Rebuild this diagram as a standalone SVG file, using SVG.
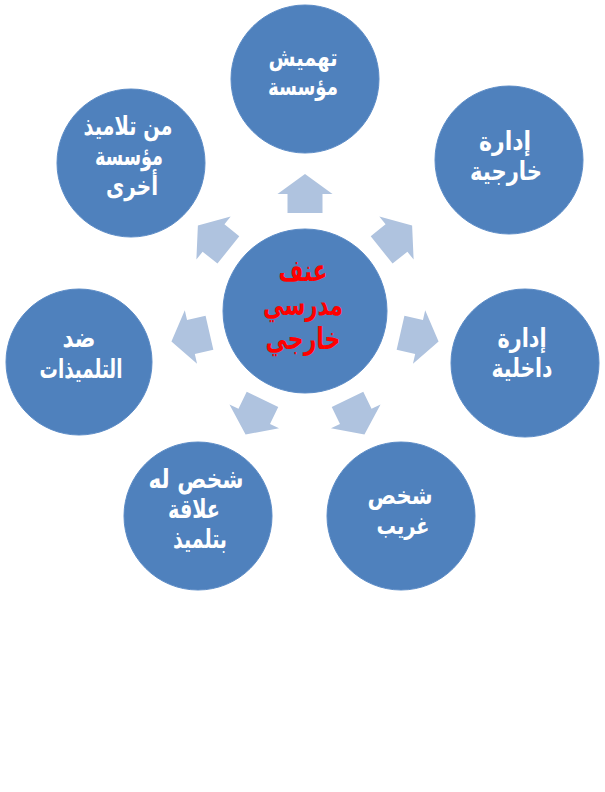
<svg xmlns="http://www.w3.org/2000/svg" width="605" height="792" viewBox="0 0 605 792">
<style>
.node{fill:#4F81BD;stroke:#5B8BC6;stroke-width:1}
.arrow{fill:#AFC3DF}
.t{font-family:"DejaVu Sans",sans-serif;font-weight:bold;font-size:26px;fill:#FFFFFF;text-anchor:middle}
.s{font-size:24px}
.c{font-family:"DejaVu Sans",sans-serif;font-weight:bold;font-size:30px;fill:#FF0000;text-anchor:middle}
</style>
<defs>
<polygon id="arr" points="98,-17.5 117,-17.5 117,-27.5 137,0 117,27.5 117,17.5 98,17.5"/>
</defs>
<rect width="605" height="792" fill="#FFFFFF"/>
<g id="connectors" class="arrow">
<use href="#arr" transform="translate(305,311) rotate(-90)"/>
<use href="#arr" transform="translate(305,311) rotate(-38.57)"/>
<use href="#arr" transform="translate(305,311) rotate(12.86)"/>
<use href="#arr" transform="translate(305,311) rotate(64.29)"/>
<use href="#arr" transform="translate(305,311) rotate(115.71)"/>
<use href="#arr" transform="translate(305,311) rotate(167.14)"/>
<use href="#arr" transform="translate(305,311) rotate(218.57)"/>
</g>
<g id="center">
<circle class="node" cx="305" cy="311" r="82"/>
<text class="c" x="303" y="281" textLength="49" lengthAdjust="spacingAndGlyphs">عنف</text>
<text class="c" x="303" y="315" textLength="80" lengthAdjust="spacingAndGlyphs">مدرسي</text>
<text class="c" x="303" y="349" textLength="75" lengthAdjust="spacingAndGlyphs">خارجي</text>
</g>
<g id="top">
<circle class="node" cx="305" cy="79" r="74"/>
<text class="t s" x="303" y="66" textLength="69" lengthAdjust="spacingAndGlyphs">تهميش</text>
<text class="t s" x="303" y="95" textLength="70" lengthAdjust="spacingAndGlyphs">مؤسسة</text>
</g>
<g id="top-right">
<circle class="node" cx="509" cy="160" r="74"/>
<text class="t" x="505" y="150" textLength="52" lengthAdjust="spacingAndGlyphs">إدارة</text>
<text class="t" x="506" y="180" textLength="72" lengthAdjust="spacingAndGlyphs">خارجية</text>
</g>
<g id="right">
<circle class="node" cx="525" cy="363" r="74"/>
<text class="t" x="522" y="347" textLength="49" lengthAdjust="spacingAndGlyphs">إدارة</text>
<text class="t" x="522" y="377" textLength="61" lengthAdjust="spacingAndGlyphs">داخلية</text>
</g>
<g id="bottom-right">
<circle class="node" cx="401" cy="516" r="74"/>
<text class="t s" x="400" y="504" textLength="65" lengthAdjust="spacingAndGlyphs">شخص</text>
<text class="t s" x="403" y="534" textLength="53" lengthAdjust="spacingAndGlyphs">غريب</text>
</g>
<g id="bottom-left">
<circle class="node" cx="198" cy="516" r="74"/>
<text class="t" x="196" y="488" textLength="95" lengthAdjust="spacingAndGlyphs">شخص له</text>
<text class="t" x="194" y="518" textLength="52" lengthAdjust="spacingAndGlyphs">علاقة</text>
<text class="t" x="200" y="548" textLength="54" lengthAdjust="spacingAndGlyphs">بتلميذ</text>
</g>
<g id="left">
<circle class="node" cx="79" cy="362" r="73"/>
<text class="t" x="79" y="347" textLength="33" lengthAdjust="spacingAndGlyphs">ضد</text>
<text class="t" x="81" y="378" textLength="83" lengthAdjust="spacingAndGlyphs">التلميذات</text>
</g>
<g id="top-left">
<circle class="node" cx="131" cy="163" r="74"/>
<text class="t" x="128" y="135" textLength="89" lengthAdjust="spacingAndGlyphs">من تلاميذ</text>
<text class="t" x="129" y="165" textLength="68" lengthAdjust="spacingAndGlyphs">مؤسسة</text>
<text class="t" x="132" y="195" textLength="52" lengthAdjust="spacingAndGlyphs">أخرى</text>
</g>
</svg>
